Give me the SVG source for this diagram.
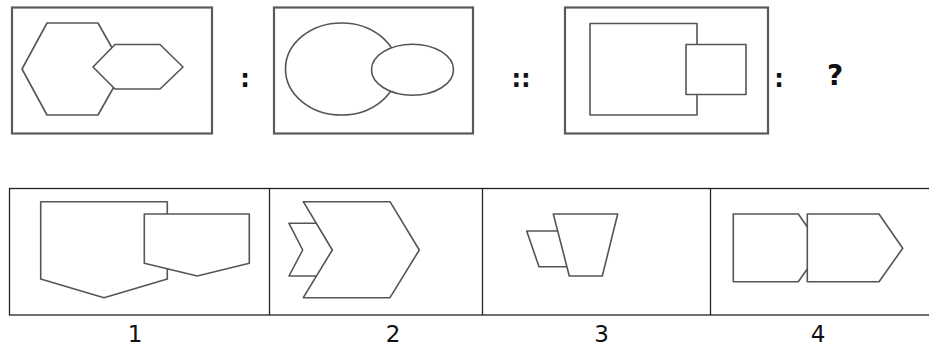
<svg xmlns="http://www.w3.org/2000/svg" width="929" height="351" viewBox="0 0 929 351">
<style>
.frame{fill:#fff;stroke:#5a5a5a;stroke-width:2.2}
.shp{fill:#fff;stroke:#555;stroke-width:1.6;stroke-linejoin:round}
.opt{fill:none;stroke:#222;stroke-width:1.3}
.op{font-family:"DejaVu Sans",Verdana,sans-serif;font-weight:bold;font-size:24px;fill:#111;text-anchor:middle}
.num{font-family:"DejaVu Sans",Verdana,sans-serif;font-size:23px;fill:#111;text-anchor:middle}
</style>
<rect width="929" height="351" fill="#fff"/>
<g id="fig-hexagons">
<rect class="frame" x="12" y="7.5" width="200" height="126"/>
<polygon class="shp" points="22,69 47,23 98,23 124,69 98,115 47,115"/>
<polygon class="shp" points="93,67 115,44.5 160,44.5 183,67 160,89 115,89"/>
</g>
<text class="op" x="245" y="87">:</text>
<g id="fig-circles">
<rect class="frame" x="274" y="7.5" width="199" height="126"/>
<ellipse class="shp" cx="341.5" cy="69" rx="56" ry="46"/>
<ellipse class="shp" cx="412.5" cy="69.7" rx="41" ry="25.5"/>
</g>
<text class="op" x="521" y="87">::</text>
<g id="fig-squares">
<rect class="frame" x="565" y="7.5" width="203" height="126"/>
<rect class="shp" x="590" y="23.5" width="107" height="91.5"/>
<rect class="shp" x="686" y="44.5" width="60" height="50"/>
</g>
<text class="op" x="779" y="87">:</text>
<text class="op" x="835" y="85" style="font-size:28px">?</text>
<g id="options-frame">
<rect class="opt" x="9.5" y="188.5" width="930" height="126.5"/>
<line class="opt" x1="269.5" y1="188.5" x2="269.5" y2="315"/>
<line class="opt" x1="482.5" y1="188.5" x2="482.5" y2="315"/>
<line class="opt" x1="710.5" y1="188.5" x2="710.5" y2="315"/>
</g>
<g id="option-1">
<polygon class="shp" points="40.7,201.7 167.3,201.7 167.3,279 104,297.7 40.7,279"/>
<polygon class="shp" points="144.3,214 249.3,214 249.3,263.3 197.3,276 144.3,263.3"/>
<text class="num" x="135" y="342">1</text>
</g>
<g id="option-2">
<polygon class="shp" points="289,223.3 326,223.3 342,250 326,276 289,276 302.7,250"/>
<polygon class="shp" points="303.3,201.7 390,201.7 419.3,250 390,297.7 303.3,297.7 332.3,250"/>
<text class="num" x="393" y="342">2</text>
</g>
<g id="option-3">
<polygon class="shp" points="526.7,231 575,231 575,266.7 539,266.7"/>
<polygon class="shp" points="553.3,214 617.7,214 602.3,276 569.3,276"/>
<text class="num" x="601.5" y="342">3</text>
</g>
<g id="option-4">
<polygon class="shp" points="733.3,214 798.3,214 822,248 798.3,281.7 733.3,281.7"/>
<polygon class="shp" points="807.3,214 879,214 902.7,248.3 879,281.7 807.3,281.7"/>
<text class="num" x="818" y="342">4</text>
</g>
</svg>
